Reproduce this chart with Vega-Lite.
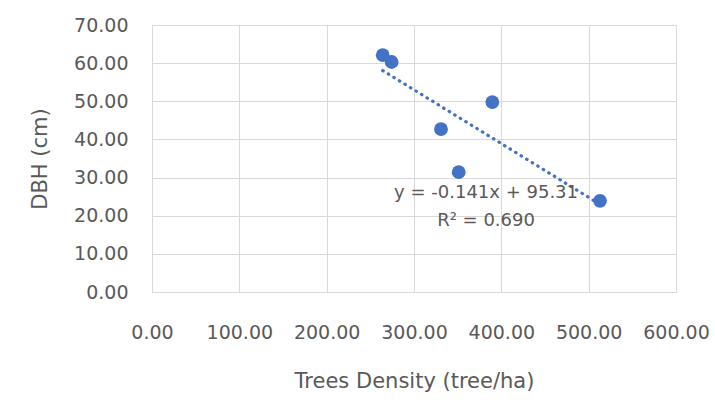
{
  "$schema": "https://vega.github.io/schema/vega-lite/v6.json",
  "width": 524,
  "height": 267,
  "autosize": "none",
  "padding": {"left": 152, "top": 25, "right": 39, "bottom": 120},
  "background": "white",
  "config": {
    "view": {"stroke": null},
    "font": "DejaVu Sans",
    "axis": {
      "gridColor": "#d9d9d9",
      "gridWidth": 1,
      "domainColor": "#d9d9d9",
      "ticks": false,
      "labelColor": "#595959",
      "labelFontSize": 19,
      "labelFont": "DejaVu Sans",
      "titleColor": "#595959",
      "titleFont": "DejaVu Sans",
      "titleFontWeight": "normal",
      "titleFontSize": 21
    }
  },
  "datasets": {
    "points": [
      {"density": 264.2, "dbh": 62.1},
      {"density": 274.4, "dbh": 60.3},
      {"density": 330.9, "dbh": 42.7},
      {"density": 351.2, "dbh": 31.4},
      {"density": 389.7, "dbh": 49.8},
      {"density": 513.0, "dbh": 23.9}
    ],
    "trend": [
      {"density": 264.2, "dbh": 58.06},
      {"density": 513.0, "dbh": 22.98}
    ],
    "labels": [
      {"density": 382.5, "dbh": 26.0, "text": "y = -0.141x + 95.31"},
      {"density": 382.5, "dbh": 18.5, "text": "R² = 0.690"}
    ]
  },
  "layer": [
    {
      "data": {"name": "trend"},
      "mark": {"type": "line", "color": "#4472C4", "strokeWidth": 3.2, "strokeDash": [0.5, 6], "strokeCap": "round"},
      "encoding": {
        "x": {
          "field": "density", "type": "quantitative",
          "scale": {"domain": [0, 600], "nice": false, "zero": true},
          "axis": {"title": "Trees Density (tree/ha)", "values": [0, 100, 200, 300, 400, 500, 600], "tickCount": 20, "format": ".2f", "labelPadding": 31, "titlePadding": 28, "labelFlush": false, "labelOverlap": false, "labelBound": false}
        },
        "y": {
          "field": "dbh", "type": "quantitative",
          "scale": {"domain": [0, 70], "nice": false},
          "axis": {"title": "DBH (cm)", "values": [0, 10, 20, 30, 40, 50, 60, 70], "tickCount": 20, "format": ".2f", "labelPadding": 24, "titlePadding": 23, "labelOverlap": false, "labelBound": false, "labelFlush": false}
        }
      }
    },
    {
      "data": {"name": "points"},
      "mark": {"type": "circle", "color": "#4472C4", "opacity": 1, "size": 190},
      "encoding": {
        "x": {"field": "density", "type": "quantitative"},
        "y": {"field": "dbh", "type": "quantitative"}
      }
    },
    {
      "data": {"name": "labels"},
      "mark": {"type": "text", "color": "#595959", "fontSize": 18, "align": "center", "baseline": "middle"},
      "encoding": {
        "x": {"field": "density", "type": "quantitative"},
        "y": {"field": "dbh", "type": "quantitative"},
        "text": {"field": "text"}
      }
    }
  ]
}
